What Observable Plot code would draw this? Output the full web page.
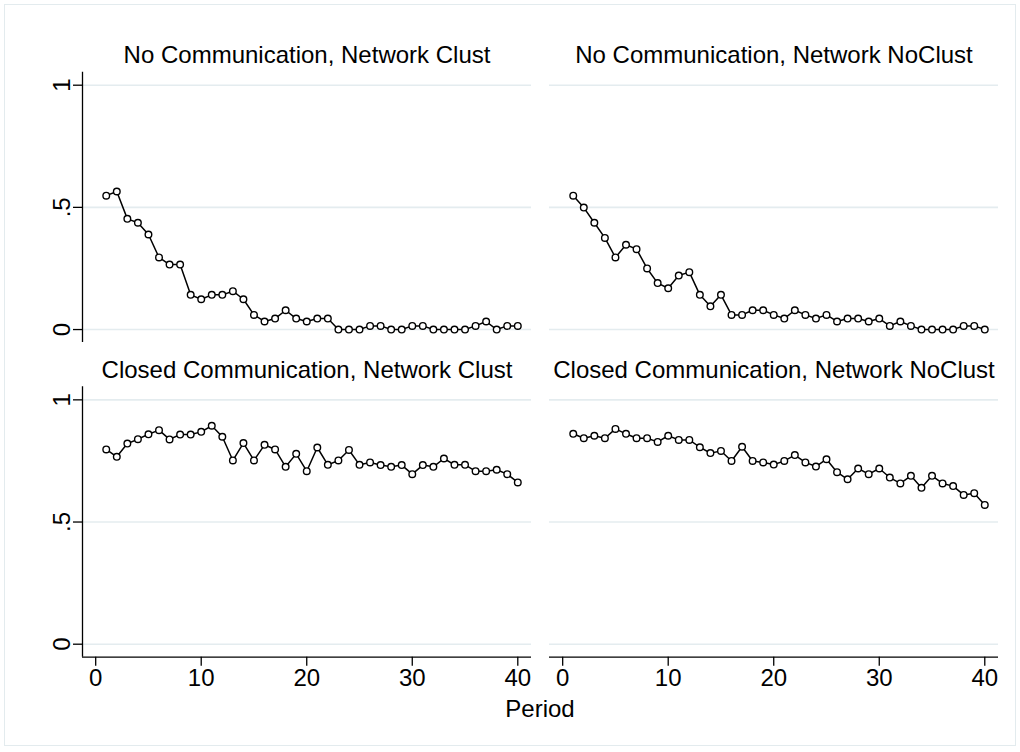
<!DOCTYPE html>
<html>
<head>
<meta charset="utf-8">
<script src="https://cdn.jsdelivr.net/npm/d3@7"></script>
<script src="https://cdn.jsdelivr.net/npm/@observablehq/plot@0.6"></script>
<style>
  html, body { margin: 0; padding: 0; background: #ffffff; }
  #wrap { position: relative; width: 1020px; height: 752px; overflow: hidden;
          font-family: "Liberation Sans", Arial, Helvetica, sans-serif; }
  #border { position: absolute; left: 4px; top: 4px; width: 1010px; height: 740px;
            border: 1px solid #e3ebee; pointer-events: none; }
  #xtitle { position: absolute; left: 82px; width: 916px; top: 696px; text-align: center;
            font-size: 24px; line-height: 26px; color: #000; }
  #chart svg { display: block; }
</style>
</head>
<body>
<div id="wrap">
  <div id="chart"></div>
  <div id="border"></div>
  <div id="xtitle">Period</div>
</div>
<script>
// ---- data ----
const periods = [1,2,3,4,5,6,7,8,9,10,11,12,13,14,15,16,17,18,19,20,
                 21,22,23,24,25,26,27,28,29,30,31,32,33,34,35,36,37,38,39,40];

const noCommClust = [0.548,0.565,0.453,0.437,0.389,0.295,0.266,0.266,0.142,0.124,
                     0.142,0.142,0.157,0.124,0.060,0.033,0.045,0.079,0.045,0.033,
                     0.045,0.045,0.000,0.000,0.000,0.015,0.015,0.000,0.000,0.015,
                     0.015,0.000,0.000,0.000,0.000,0.015,0.033,0.000,0.015,0.015];

const noCommNoClust = [0.548,0.499,0.437,0.375,0.295,0.347,0.329,0.250,0.190,0.169,
                       0.221,0.235,0.142,0.095,0.142,0.060,0.060,0.079,0.079,0.060,
                       0.045,0.079,0.060,0.045,0.060,0.033,0.045,0.045,0.033,0.045,
                       0.015,0.033,0.015,0.000,0.000,0.000,0.000,0.015,0.015,0.000];

const closedCommClust = [0.797,0.767,0.821,0.839,0.859,0.876,0.838,0.858,0.858,0.869,
                         0.894,0.849,0.752,0.823,0.752,0.816,0.797,0.726,0.779,0.708,
                         0.805,0.734,0.752,0.795,0.734,0.744,0.733,0.726,0.733,0.696,
                         0.733,0.726,0.760,0.734,0.734,0.708,0.708,0.714,0.696,0.662];

const closedCommNoClust = [0.861,0.843,0.853,0.843,0.881,0.861,0.843,0.843,0.828,0.853,
                           0.836,0.836,0.806,0.782,0.791,0.750,0.808,0.750,0.744,0.735,
                           0.750,0.774,0.744,0.727,0.757,0.704,0.675,0.719,0.696,0.719,
                           0.682,0.658,0.689,0.640,0.689,0.658,0.647,0.611,0.618,0.570];

const panelTitles = ["No Communication, Network Clust", "No Communication, Network NoClust",
                     "Closed Communication, Network Clust", "Closed Communication, Network NoClust"];
const panelRows = ["No Communication", "No Communication", "Closed Communication", "Closed Communication"];
const panelCols = ["Network Clust", "Network NoClust", "Network Clust", "Network NoClust"];
const rowOrder = ["No Communication", "Closed Communication"];
const colOrder = ["Network Clust", "Network NoClust"];

const xTicks = [0, 10, 20, 30, 40];
const yTicks = [0, 0.5, 1];
const yTickLabels = ["0", ".5", "1"];
const xTitle = "Period";

// ---- tables built from the arrays ----
const seriesList = [noCommClust, noCommNoClust, closedCommClust, closedCommNoClust];
const rows = seriesList.flatMap((vals, i) =>
  periods.map((p, j) => ({period: p, value: vals[j], row: panelRows[i], col: panelCols[i]})));
const titleData = panelTitles.map((t, i) => ({title: t, row: panelRows[i], col: panelCols[i]}));
const leftPanels = titleData.filter(d => d.col === colOrder[0]);
const bottomPanels = titleData.filter(d => d.row === rowOrder[1]);

const xDom = [-1.25, 41.3];
const yDom = [-0.0532, 1.0532];

const chart = Plot.plot({
  width: 1020,
  height: 752,
  marginLeft: 82,
  marginRight: 22,
  marginTop: 71.7,
  marginBottom: 95.3,
  style: {fontFamily: '"Liberation Sans", Arial, Helvetica, sans-serif', background: "transparent", color: "#000", overflow: "visible"},
  fx: {domain: colOrder, paddingInner: 0.0385, paddingOuter: 0, round: false, axis: null},
  fy: {domain: rowOrder, paddingInner: 0.1408, paddingOuter: 0, round: false, axis: null},
  x: {domain: xDom},
  y: {domain: yDom},
  marks: [
    Plot.ruleY(yTicks, {stroke: "#e4ecef", strokeWidth: 1.6}),
    Plot.ruleX(leftPanels, {x: () => xDom[0], fx: "col", fy: "row", stroke: "#000", strokeWidth: 1.3}),
    Plot.ruleY(bottomPanels, {y: () => yDom[0], fx: "col", fy: "row", stroke: "#000", strokeWidth: 1.3}),
    Plot.axisX({ticks: xTicks, tickSize: 9, tickPadding: 3, fontSize: 24, label: null, strokeWidth: 1.3}),
    Plot.axisY({ticks: yTicks, tickFormat: d => yTickLabels[yTicks.indexOf(d)], tickSize: 9, tickPadding: 4,
                tickRotate: -90, fontSize: 24, label: null, strokeWidth: 1.3}),
    Plot.text(titleData, {fx: "col", fy: "row", text: "title", frameAnchor: "top", dy: -16.5,
                          lineAnchor: "middle", fontSize: 24, fill: "#000"}),
    Plot.line(rows, {x: "period", y: "value", fx: "col", fy: "row", stroke: "#000", strokeWidth: 1.5}),
    Plot.dot(rows, {x: "period", y: "value", fx: "col", fy: "row", r: 3.3, stroke: "#000",
                    strokeWidth: 1.4, fill: "#fff"})
  ]
});
document.getElementById("chart").appendChild(chart);
document.getElementById("xtitle").textContent = xTitle;
</script>
</body>
</html>
